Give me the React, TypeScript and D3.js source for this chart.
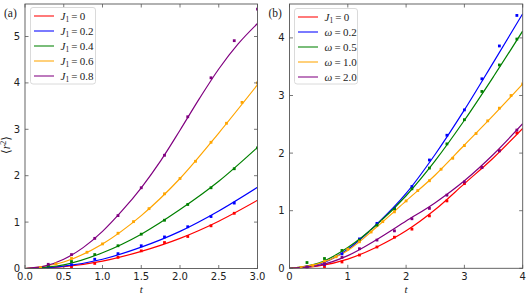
import React, { useEffect, useRef } from 'react';
import * as d3 from 'd3';

// ---- panel (a): J1 sweep ----
const tLineA = [0, 0.5, 1.0, 1.5, 2.0, 2.5, 3.0];
const redLineA = [0, 0.04, 0.16, 0.37, 0.65, 1.02, 1.47];
const blueLineA = [0, 0.05, 0.2, 0.46, 0.8, 1.24, 1.75];
const greenLineA = [0, 0.08, 0.34, 0.74, 1.27, 1.88, 2.61];
const orangeLineA = [0, 0.14, 0.53, 1.14, 1.94, 2.92, 3.96];
const tLinePurpleA = [0, 0.25, 0.5, 0.75, 1.0, 1.25, 1.5, 1.75, 2.0, 2.25, 2.5, 2.75, 3.0];
const purpleLineA = [0, 0.05, 0.2, 0.45, 0.8, 1.24, 1.74, 2.32, 2.98, 3.66, 4.3, 4.84, 5.28];

const tPtsA = [0.3, 0.6, 0.9, 1.2, 1.5, 1.8, 2.1, 2.4, 2.7, 3.0];
const tPtsOrangeA = [0.2, 0.4, 0.6, 0.8, 1.0, 1.2, 1.4, 1.6, 1.8, 2.0, 2.2, 2.4, 2.6, 2.8, 3.0];
const redPtsA = [0.01, 0.04, 0.11, 0.24, 0.38, 0.56, 0.69, 0.92, 1.19];
const bluePtsA = [0.03, 0.08, 0.2, 0.32, 0.49, 0.68, 0.9, 1.12, 1.41];
const greenPtsA = [0.05, 0.15, 0.3, 0.49, 0.74, 1.04, 1.38, 1.74, 2.15, 2.6];
const orangePtsA = [0.02, 0.1, 0.22, 0.35, 0.53, 0.76, 1.01, 1.29, 1.61, 1.94, 2.31, 2.72, 3.13, 3.58, 4.0];
const purplePtsA = [0.09, 0.3, 0.65, 1.14, 1.74, 2.44, 3.27, 4.11, 4.91, 5.59];

// ---- panel (b): omega sweep ----
const tLineB = [0, 0.5, 1.0, 1.5, 2.0, 2.5, 3.0, 3.5, 4.0];
const redLineB = [0, 0.04, 0.16, 0.37, 0.65, 1.02, 1.47, 1.92, 2.43];
const blueLineB = [0, 0.07, 0.33, 0.77, 1.3, 1.98, 2.75, 3.58, 4.42];
const greenLineB = [0, 0.09, 0.36, 0.76, 1.26, 1.87, 2.57, 3.33, 4.12];
const orangeLineB = [0, 0.08, 0.31, 0.72, 1.17, 1.62, 2.14, 2.66, 3.2];
const purpleLineB = [0, 0.05, 0.22, 0.5, 0.82, 1.14, 1.52, 1.98, 2.51];

const tPtsB = [0.3, 0.6, 0.9, 1.2, 1.5, 1.8, 2.1, 2.4, 2.7, 3.0, 3.3, 3.6, 3.9];
const tPtsOrangeB = [0.2, 0.4, 0.6, 0.8, 1.0, 1.2, 1.4, 1.6, 1.8, 2.0, 2.2, 2.4, 2.6, 2.8, 3.0, 3.2, 3.4, 3.6, 3.8, 4.0];
const redPtsB = [0.0, 0.03, 0.11, 0.23, 0.37, 0.54, 0.68, 0.91, 1.17, 1.47, 1.75, 2.04, 2.35];
const bluePtsB = [0.02, 0.07, 0.25, 0.51, 0.78, 1.04, 1.42, 1.88, 2.31, 2.75, 3.29, 3.86, 4.39];
const greenPtsB = [0.1, 0.17, 0.31, 0.49, 0.75, 1.03, 1.38, 1.74, 2.16, 2.58, 3.07, 3.53, 3.98];
const orangePtsB = [0.01, 0.05, 0.12, 0.2, 0.33, 0.46, 0.63, 0.81, 0.98, 1.17, 1.35, 1.52, 1.72, 1.91, 2.13, 2.34, 2.56, 2.78, 3.0, 3.2];
const purplePtsB = [0.02, 0.08, 0.19, 0.34, 0.49, 0.65, 0.86, 1.04, 1.27, 1.5, 1.75, 2.04, 2.4];

const colors = ['#ff0000', '#0000ff', '#008000', '#ffa500', '#800080'];
const legendA = [['J', '1', '0'], ['J', '1', '0.2'], ['J', '1', '0.4'], ['J', '1', '0.6'], ['J', '1', '0.8']];
const legendB = [['J', '1', '0'], ['ω', '', '0.2'], ['ω', '', '0.5'], ['ω', '', '1.0'], ['ω', '', '2.0']];

const xTicksA = [0, 0.5, 1.0, 1.5, 2.0, 2.5, 3.0];
const yTicksA = [0, 1, 2, 3, 4, 5];
const xTicksB = [0, 1, 2, 3, 4];
const yTicksB = [0, 1, 2, 3, 4];

interface Series {
  tl: number[];
  yl: number[];
  tp: number[];
  yp: number[];
}

const seriesA: Series[] = [
  { tl: tLineA, yl: redLineA, tp: tPtsA, yp: redPtsA },
  { tl: tLineA, yl: blueLineA, tp: tPtsA, yp: bluePtsA },
  { tl: tLineA, yl: greenLineA, tp: tPtsA, yp: greenPtsA },
  { tl: tLineA, yl: orangeLineA, tp: tPtsOrangeA, yp: orangePtsA },
  { tl: tLinePurpleA, yl: purpleLineA, tp: tPtsA, yp: purplePtsA },
];
const seriesB: Series[] = [
  { tl: tLineB, yl: redLineB, tp: tPtsB, yp: redPtsB },
  { tl: tLineB, yl: blueLineB, tp: tPtsB, yp: bluePtsB },
  { tl: tLineB, yl: greenLineB, tp: tPtsB, yp: greenPtsB },
  { tl: tLineB, yl: orangeLineB, tp: tPtsOrangeB, yp: orangePtsB },
  { tl: tLineB, yl: purpleLineB, tp: tPtsB, yp: purplePtsB },
];

const App: React.FC = () => {
  const ref = useRef<SVGSVGElement | null>(null);

  useEffect(() => {
    const svg = d3.select(ref.current);
    svg.selectAll('*').remove();
    const tickFont = '"DejaVu Sans", sans-serif';
    const serif = '"Liberation Serif", "DejaVu Serif", serif';

    const drawPanel = (
      x0: number, x1: number, y0: number, y1: number,
      xDom: [number, number], yDom: [number, number],
      xTicks: number[], yTicks: number[], xFmt: (d: number) => string,
      series: Series[], legend: string[][], label: string,
      legBox: { x: number; y: number; w: number; h: number }
    ) => {
      const x = d3.scaleLinear().domain(xDom).range([x0, x1]);
      const y = d3.scaleLinear().domain(yDom).range([y0, y1]);
      const g = svg.append('g');
      const clipId = 'clip' + label.replace(/\W/g, '');
      svg.append('clipPath').attr('id', clipId)
        .append('rect').attr('x', x0).attr('y', y1).attr('width', x1 - x0).attr('height', y0 - y1);

      const line = d3.line<[number, number]>()
        .x(d => x(d[0])).y(d => y(d[1]))
        .curve(d3.curveMonotoneX);

      const plot = g.append('g').attr('clip-path', `url(#${clipId})`);
      series.forEach((s, i) => {
        plot.append('path')
          .attr('d', line(s.tl.map((t, k) => [t, s.yl[k]] as [number, number])))
          .attr('fill', 'none')
          .attr('stroke', colors[i])
          .attr('stroke-width', 1.2);
      });
      series.forEach((s, i) => {
        plot.selectAll(null)
          .data(s.yp.map((v, k) => [s.tp[k], v]))
          .join('rect')
          .attr('x', d => x(d[0]) - 1.4)
          .attr('y', d => y(d[1]) - 1.4)
          .attr('width', 2.8)
          .attr('height', 2.8)
          .attr('fill', colors[i]);
      });

      // frame
      g.append('rect')
        .attr('x', x0).attr('y', y1)
        .attr('width', x1 - x0).attr('height', y0 - y1)
        .attr('fill', 'none').attr('stroke', '#555').attr('stroke-width', 0.9);

      // ticks, pointing in, on every side
      const tl = 3.5;
      xTicks.forEach(t => {
        g.append('line').attr('x1', x(t)).attr('x2', x(t)).attr('y1', y0).attr('y2', y0 - tl)
          .attr('stroke', '#555').attr('stroke-width', 0.8);
        g.append('line').attr('x1', x(t)).attr('x2', x(t)).attr('y1', y1).attr('y2', y1 + tl)
          .attr('stroke', '#555').attr('stroke-width', 0.8);
        g.append('text').attr('x', x(t)).attr('y', y0 + 11.5)
          .attr('text-anchor', 'middle').attr('font-family', tickFont).attr('font-size', 10)
          .attr('fill', '#222').text(xFmt(t));
      });
      yTicks.forEach(v => {
        g.append('line').attr('x1', x0).attr('x2', x0 + tl).attr('y1', y(v)).attr('y2', y(v))
          .attr('stroke', '#555').attr('stroke-width', 0.8);
        g.append('line').attr('x1', x1).attr('x2', x1 - tl).attr('y1', y(v)).attr('y2', y(v))
          .attr('stroke', '#555').attr('stroke-width', 0.8);
        g.append('text').attr('x', x0 - 5).attr('y', y(v) + 3.4)
          .attr('text-anchor', 'end').attr('font-family', tickFont).attr('font-size', 10)
          .attr('fill', '#222').text(String(v));
      });

      // x label
      g.append('text').attr('x', (x0 + x1) / 2).attr('y', 292.5)
        .attr('text-anchor', 'middle').attr('font-family', serif).attr('font-style', 'italic')
        .attr('font-size', 11).attr('fill', '#222').text('t');

      // panel label
      g.append('text').attr('x', x0 - 21).attr('y', 17)
        .attr('font-family', serif).attr('font-size', 11.5).attr('fill', '#222').text(label);

      // legend
      g.append('rect')
        .attr('x', legBox.x).attr('y', legBox.y).attr('width', legBox.w).attr('height', legBox.h)
        .attr('rx', 2.5).attr('fill', 'white').attr('fill-opacity', 0.85)
        .attr('stroke', '#d0d0d0').attr('stroke-width', 0.8);
      legend.forEach((item, i) => {
        const ly = legBox.y + 8.5 + i * 15;
        g.append('line')
          .attr('x1', legBox.x + 3.5).attr('x2', legBox.x + 23.5)
          .attr('y1', ly).attr('y2', ly)
          .attr('stroke', colors[i]).attr('stroke-opacity', 0.75).attr('stroke-width', 1.4);
        const txt = g.append('text').attr('x', legBox.x + 30).attr('y', ly + 3.5)
          .attr('font-family', serif).attr('font-size', 11).attr('fill', '#222');
        txt.append('tspan').attr('font-style', 'italic').text(item[0]);
        if (item[1]) txt.append('tspan').attr('font-size', 7.5).attr('dy', 2).text(item[1]);
        txt.append('tspan').attr('dy', item[1] ? -2 : 0).text('\u2009=\u2009' + item[2]);
      });
    };

    drawPanel(25, 257.5, 268.5, 4, [0, 3], [0, (268.5 - 4) / 46.4], xTicksA, yTicksA,
      d => d.toFixed(1), seriesA, legendA, '(a)', { x: 30.5, y: 7.5, w: 65, h: 76.5 });
    drawPanel(289.5, 522.7, 268.3, 4, [0, 4], [0, (268.3 - 4) / 57.6], xTicksB, yTicksB,
      d => String(d), seriesB, legendB, '(b)', { x: 294.5, y: 8.5, w: 63, h: 75.5 });

    // y label <r^2>
    const yl = svg.append('text')
      .attr('transform', 'translate(10,145) rotate(-90)')
      .attr('text-anchor', 'middle')
      .attr('font-family', serif).attr('font-size', 12).attr('fill', '#222');
    yl.append('tspan').text('⟨');
    yl.append('tspan').attr('font-style', 'italic').text('r');
    yl.append('tspan').attr('font-size', 8).attr('dy', -4).text('2');
    yl.append('tspan').attr('dy', 4).text('⟩');
  }, []);

  return (
    <svg ref={ref} width={529} height={295}
      style={{ position: 'absolute', left: 0, top: 0, background: '#fff' }} />
  );
};

export default App;
